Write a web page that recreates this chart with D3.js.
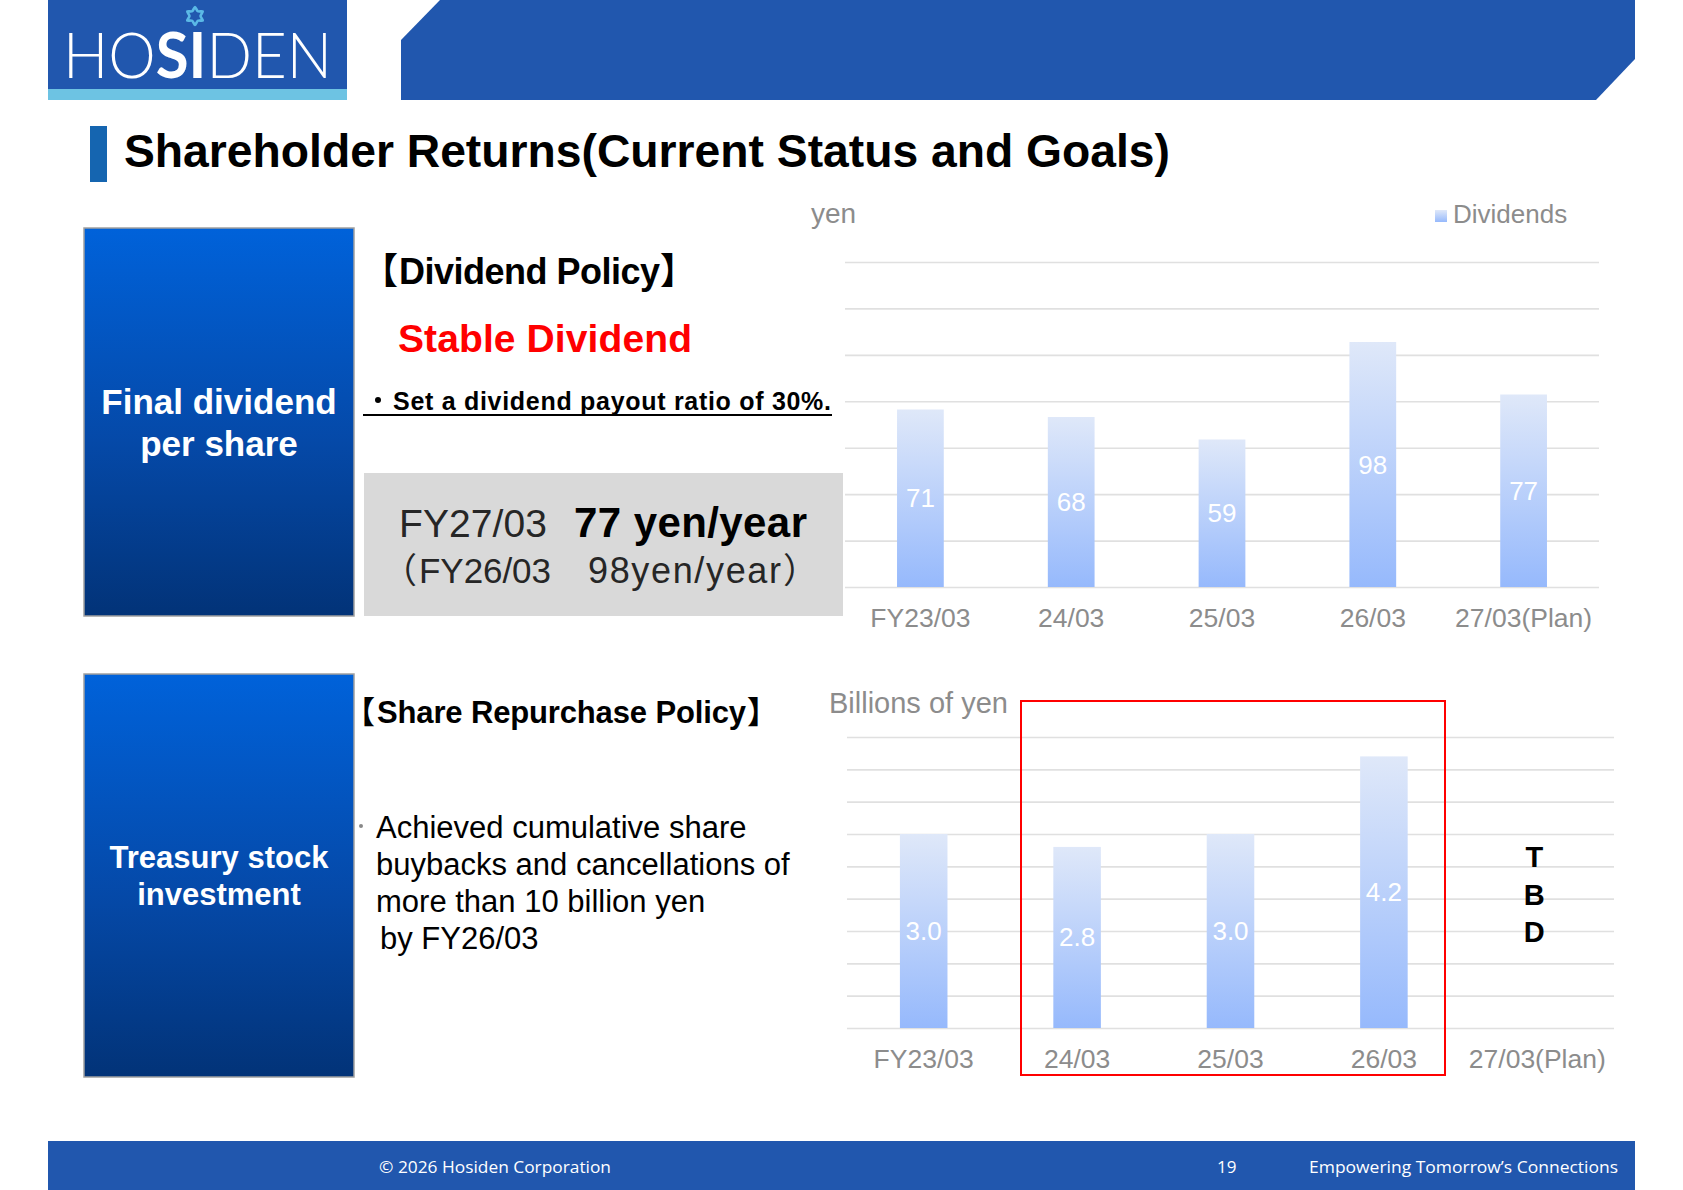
<!DOCTYPE html>
<html><head><meta charset="utf-8">
<script src="https://cdn.jsdelivr.net/npm/d3@7"></script>
<style>
html,body{margin:0;padding:0;background:#fff;}
svg{display:block;font-family:"Liberation Sans",Arial,sans-serif;}
</style></head>
<body>
<svg id="c" width="1683" height="1190"></svg>
<script>
// ---- data ----
const categories = ["FY23/03", "24/03", "25/03", "26/03", "27/03(Plan)"];
const dividends = [71, 68, 59, 98, 77];
const dividendLabels = ["71", "68", "59", "98", "77"];
const buybacks = [3.0, 2.8, 3.0, 4.2, null];
const buybackLabels = ["3.0", "2.8", "3.0", "4.2", ""];
const dividendGrid = [0, 18.57, 37.14, 55.71, 74.29, 92.86, 111.43, 130];
const buybackGrid = [0, 0.5, 1, 1.5, 2, 2.5, 3, 3.5, 4, 4.5];
const tbdLetters = ["T", "B", "D"];

const svg = d3.select("#c");
const defs = svg.append("defs");
const blue = "#2157ae";
const CJK = "'Noto Sans CJK JP','Noto Sans CJK SC',sans-serif";

// gradients
const bg = defs.append("linearGradient").attr("id","boxGrad").attr("x1",0).attr("y1",0).attr("x2",0).attr("y2",1);
bg.append("stop").attr("offset","0%").attr("stop-color","#0062da");
bg.append("stop").attr("offset","55%").attr("stop-color","#0549a8");
bg.append("stop").attr("offset","100%").attr("stop-color","#023378");
const barG = defs.append("linearGradient").attr("id","barGrad").attr("x1",0).attr("y1",0).attr("x2",0).attr("y2",1);
barG.append("stop").attr("offset","0%").attr("stop-color","#dfe8f9");
barG.append("stop").attr("offset","100%").attr("stop-color","#96b9fc");

// ---- header ----
svg.append("rect").attr("x",48).attr("y",0).attr("width",299).attr("height",89).attr("fill",blue);
svg.append("rect").attr("x",48).attr("y",89).attr("width",299).attr("height",11).attr("fill","#6dc3e3");
const logo = svg.append("text").attr("x",63).attr("y",78).attr("fill","#fff")
  .attr("font-family","Lato, 'Open Sans', sans-serif").attr("font-size",64)
  .attr("textLength",269).attr("lengthAdjust","spacingAndGlyphs");
logo.append("tspan").attr("font-weight",300).text("HO");
logo.append("tspan").attr("font-weight",700).text("SI");
logo.append("tspan").attr("font-weight",300).text("DEN");
// flower mark (six-point rounded star outline)
const starPts = d3.range(12).map(i=>{
  const a = -Math.PI/2 + i*Math.PI/6, r = i%2===0 ? 9 : 5.5;
  return [195 + r*Math.cos(a), 16 + r*Math.sin(a)];
});
svg.append("path").attr("d", d3.line().curve(d3.curveCardinalClosed.tension(0.3))(starPts))
  .attr("fill","none").attr("stroke","#5bb9e6").attr("stroke-width",2.6);
svg.append("polygon").attr("points","440,0 1635,0 1635,59 1596,100 401,100 401,40").attr("fill",blue);

// title
svg.append("rect").attr("x",90).attr("y",126).attr("width",17).attr("height",56).attr("fill","#1565b0");
svg.append("text").attr("x",124).attr("y",167).attr("font-size",46).attr("font-weight","bold").attr("fill","#000")
  .attr("textLength",1046).attr("lengthAdjust","spacingAndGlyphs")
  .text("Shareholder Returns(Current Status and Goals)");

// ---- left boxes ----
function leftBox(y, h, lines, baselines, fs){
  svg.append("rect").attr("x",84).attr("y",y).attr("width",270).attr("height",h)
    .attr("fill","url(#boxGrad)").attr("stroke","#a0a0a0").attr("stroke-width",1.5);
  lines.forEach((t,i)=>svg.append("text").attr("x",219).attr("y",baselines[i]).attr("text-anchor","middle")
    .attr("fill","#fff").attr("font-weight","bold").attr("font-size",fs).text(t));
}
leftBox(228, 388, ["Final dividend","per share"], [414,456], 35);
leftBox(674, 403, ["Treasury stock","investment"], [868,905], 31);

// ---- dividend policy text ----
svg.append("text").attr("x",362).attr("y",284).attr("font-family",CJK).attr("font-size",36).attr("font-weight","bold").text("【");
svg.append("text").attr("x",399).attr("y",284).attr("font-size",36).attr("font-weight","bold")
  .attr("textLength",261).attr("lengthAdjust","spacing").text("Dividend Policy");
svg.append("text").attr("x",660).attr("y",284).attr("font-family",CJK).attr("font-size",36).attr("font-weight","bold").text("】");
svg.append("text").attr("x",398).attr("y",352).attr("font-size",39).attr("font-weight","bold").attr("fill","#ff0000")
  .attr("textLength",294).attr("lengthAdjust","spacing").text("Stable Dividend");
svg.append("circle").attr("cx",378).attr("cy",400).attr("r",3).attr("fill","#000");
svg.append("text").attr("x",393).attr("y",410).attr("font-size",25).attr("font-weight","bold")
  .attr("textLength",438).attr("lengthAdjust","spacing").text("Set a dividend payout ratio of 30%.");
svg.append("line").attr("x1",363).attr("x2",832).attr("y1",415).attr("y2",415).attr("stroke","#000").attr("stroke-width",2);

svg.append("rect").attr("x",364).attr("y",473).attr("width",479).attr("height",143).attr("fill","#d9d9d9");
svg.append("text").attr("x",399).attr("y",537).attr("font-size",39).attr("fill","#262626")
  .attr("textLength",148).attr("lengthAdjust","spacing").text("FY27/03");
svg.append("text").attr("x",574).attr("y",537).attr("font-size",42).attr("font-weight","bold").attr("fill","#000")
  .attr("textLength",233).attr("lengthAdjust","spacing").text("77 yen/year");
svg.append("text").attr("x",382).attr("y",583).attr("font-family",CJK).attr("font-size",35).attr("fill","#262626").text("（");
svg.append("text").attr("x",419).attr("y",583).attr("font-size",35).attr("fill","#262626")
  .attr("textLength",132).attr("lengthAdjust","spacing").text("FY26/03");
svg.append("text").attr("x",588).attr("y",583).attr("font-size",36).attr("fill","#262626")
  .attr("textLength",193).attr("lengthAdjust","spacing").text("98yen/year");
svg.append("text").attr("x",783).attr("y",583).attr("font-family",CJK).attr("font-size",35).attr("fill","#262626").text("）");

// ---- share repurchase text ----
svg.append("text").attr("x",344).attr("y",723).attr("font-family",CJK).attr("font-size",31).attr("font-weight","bold").text("【");
svg.append("text").attr("x",377).attr("y",723).attr("font-size",31).attr("font-weight","bold")
  .attr("textLength",369).attr("lengthAdjust","spacing").text("Share Repurchase Policy");
svg.append("text").attr("x",747).attr("y",723).attr("font-family",CJK).attr("font-size",31).attr("font-weight","bold").text("】");
svg.append("circle").attr("cx",361).attr("cy",826).attr("r",2).attr("fill","#888");
const para = ["Achieved cumulative share","buybacks and cancellations of","more than 10 billion yen","by FY26/03"];
const paraY = [838, 875, 912, 949];
para.forEach((t,i)=>svg.append("text").attr("x", i===3?380:376).attr("y",paraY[i]).attr("font-size",31).attr("fill","#000").text(t));

// ---- chart helper ----
function barChart(opts){
  const x = d3.scaleBand().domain(categories).range([opts.x0,opts.x1]).paddingInner(0.69).paddingOuter(0.345);
  const y = d3.scaleLinear().domain(opts.domain).range([opts.yb,opts.yt]);
  const g = svg.append("g");
  const grid = g.append("g").attr("transform",`translate(${opts.x0},0)`)
    .call(d3.axisLeft(y).tickValues(opts.grid).tickSize(-(opts.x1-opts.x0)).tickFormat(""));
  grid.select(".domain").remove();
  grid.selectAll(".tick line").attr("stroke","#e0e0e0").attr("stroke-width",1.6);
  const data = categories.map((c,i)=>({c, v: opts.values[i], l: opts.labels[i]})).filter(d=>d.v!=null);
  g.selectAll("rect.bar").data(data).join("rect").attr("class","bar")
    .attr("x",d=>x(d.c)).attr("width",x.bandwidth())
    .attr("y",d=>y(d.v)).attr("height",d=>y(0)-y(d.v)).attr("fill","url(#barGrad)");
  g.selectAll("text.val").data(data).join("text").attr("class","val")
    .attr("x",d=>x(d.c)+x.bandwidth()/2).attr("y",d=>(y(d.v)+y(0))/2)
    .attr("text-anchor","middle").attr("dominant-baseline","central")
    .attr("fill","#fff").attr("font-size",26).text(d=>d.l);
  const ax = g.append("g").attr("transform",`translate(0,${opts.yb})`)
    .call(d3.axisBottom(x).tickSize(0).tickPadding(21));
  ax.select(".domain").remove();
  ax.selectAll("text").attr("font-size",26.5).attr("fill","#8c8c8c").attr("font-family","Liberation Sans, Arial, sans-serif");
  return {x,y};
}

// chart 1
svg.append("text").attr("x",811).attr("y",223).attr("font-size",28).attr("fill","#8c8c8c").text("yen");
svg.append("rect").attr("x",1435).attr("y",210).attr("width",12).attr("height",12).attr("fill","url(#barGrad)");
svg.append("text").attr("x",1453).attr("y",223).attr("font-size",26).attr("fill","#8c8c8c").text("Dividends");
barChart({x0:845,x1:1599,yb:587,yt:262,domain:[0,130],grid:dividendGrid,values:dividends,labels:dividendLabels});

// chart 2
svg.append("text").attr("x",829).attr("y",713).attr("font-size",29).attr("fill","#8c8c8c").text("Billions of yen");
const c2 = barChart({x0:847,x1:1614,yb:1028,yt:737,domain:[0,4.5],grid:buybackGrid,values:buybacks,labels:buybackLabels});
const tbdX = c2.x(categories[4]) + c2.x.bandwidth()/2 - 3;
[867,905,942].forEach((yy,i)=>svg.append("text").attr("x",tbdX).attr("y",yy).attr("text-anchor","middle")
  .attr("font-size",29).attr("font-weight","bold").attr("fill","#000").text(tbdLetters[i]));
svg.append("rect").attr("x",1021).attr("y",701).attr("width",424).attr("height",374)
  .attr("fill","none").attr("stroke","#ff0000").attr("stroke-width",2);

// ---- footer ----
svg.append("rect").attr("x",48).attr("y",1141).attr("width",1587).attr("height",49).attr("fill",blue);
const ff = "'Open Sans','Noto Sans',sans-serif";
svg.append("text").attr("x",379).attr("y",1173).attr("font-family",ff).attr("font-size",17).attr("fill","#fff")
  .attr("textLength",232).attr("lengthAdjust","spacingAndGlyphs").text("© 2026 Hosiden Corporation");
svg.append("text").attr("x",1217).attr("y",1173).attr("font-family",ff).attr("font-size",17).attr("fill","#fff").text("19");
svg.append("text").attr("x",1309).attr("y",1173).attr("font-family",ff).attr("font-size",17).attr("fill","#fff")
  .attr("textLength",309).attr("lengthAdjust","spacingAndGlyphs").text("Empowering Tomorrow’s Connections");
</script>
</body></html>
